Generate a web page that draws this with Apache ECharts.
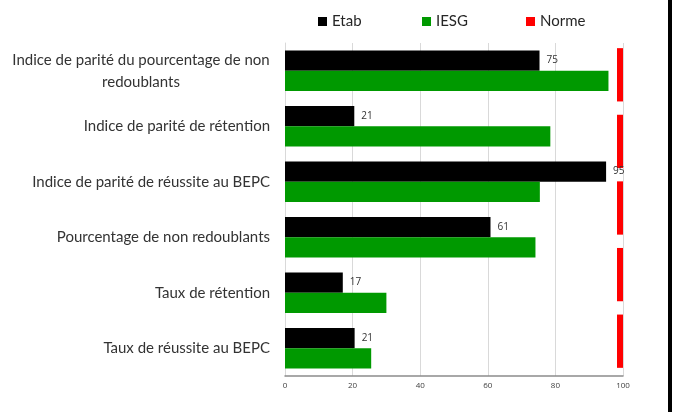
<!DOCTYPE html>
<html>
<head>
<meta charset="utf-8">
<script src="https://cdn.jsdelivr.net/npm/echarts@6/dist/echarts.min.js"></script>
<style>
  html, body { margin: 0; padding: 0; background: #fff; }
  #chart { width: 677px; height: 412px; }
</style>
</head>
<body>
<div id="chart"></div>
<script>
const categories = [
  "Indice de parité du pourcentage de non\nredoublants",
  "Indice de parité de rétention",
  "Indice de parité de réussite au BEPC",
  "Pourcentage de non redoublants",
  "Taux de rétention",
  "Taux de réussite au BEPC",
];
const etabValues = [75.3, 20.5, 95, 60.8, 17.1, 20.6];
const iesgValues = [95.7, 78.5, 75.4, 74.1, 30, 25.5];
// Norme sits on its own 5-slot axis, like the secondary axis in the source
const normeSlots = ["1", "2", "3", "4", "5"];
const normeValues = [100, 100, 100, 100, 100];
const xTicks = [0, 20, 40, 60, 80, 100];
const seriesNames = ["Etab", "IESG", "Norme"];

const labelFont = "Lato";
const labelSize = 15;

// width of the first line of wrapped labels, so the second line centres under it
function textWidth(text) {
  const ctx = document.createElement("canvas").getContext("2d");
  ctx.font = `${labelSize}px ${labelFont}`;
  return Math.ceil(ctx.measureText(text).width);
}

// one legend per item so they sit on an even spacing like the source
const legends = seriesNames.map((name, i) => ({
  left: 313 + i * 104,
  top: 9,
  itemWidth: 9,
  itemHeight: 9,
  textStyle: { fontSize: 15, color: "#262626" },
  data: [{ name, icon: "rect" }],
}));

const chart = echarts.init(document.querySelector("#chart"));

chart.setOption({
  animation: false,
  textStyle: { fontFamily: labelFont },
  legend: legends,
  grid: { left: 285, right: 54, top: 43, bottom: 36 },
  xAxis: [
    {
      type: "value",
      min: xTicks[0],
      max: xTicks[xTicks.length - 1],
      interval: 20,
      axisLine: { show: true, lineStyle: { color: "#8c8c8c", width: 1.5 } },
      axisTick: { show: false },
      axisLabel: { fontSize: 8, color: "#404040", margin: 6, fontFamily: "Open Sans" },
      splitLine: { lineStyle: { color: "#d9d9d9", width: 1 } },
    },
  ],
  yAxis: [
    {
      type: "category",
      inverse: true,
      data: categories,
      axisLine: { lineStyle: { color: "#d9d9d9" } },
      axisTick: { length: 5, lineStyle: { color: "#d9d9d9" } },
      axisLabel: {
        margin: 15,
        color: "#333",
        fontSize: labelSize,
        lineHeight: 22,
        formatter: (value) => {
          if (!value.includes("\n")) return value;
          return value.split("\n").map((line) => `{c|${line}}`).join("\n");
        },
        rich: {
          c: {
            width: textWidth(categories[0].split("\n")[0]),
            align: "center",
            fontSize: labelSize,
            lineHeight: 22,
            color: "#333",
          },
        },
      },
    },
    {
      type: "category",
      data: normeSlots,
      show: false,
    },
  ],
  series: [
    {
      name: seriesNames[0],
      type: "bar",
      data: etabValues,
      barGap: "0%",
      barCategoryGap: "27%",
      itemStyle: { color: "#000000" },
      label: {
        show: true,
        position: "right",
        distance: 7,
        fontSize: 10,
        color: "#333",
        fontFamily: "Open Sans",
        formatter: (p) => Math.round(p.value),
      },
    },
    {
      name: seriesNames[1],
      type: "bar",
      data: iesgValues,
      barGap: "0%",
      barCategoryGap: "27%",
      itemStyle: { color: "#009900" },
    },
    {
      name: seriesNames[2],
      type: "custom",
      xAxisIndex: 0,
      yAxisIndex: 1,
      itemStyle: { color: "#ff0000" },
      data: normeValues.map((v, i) => [v, i]),
      encode: { x: 0, y: 1 },
      renderItem: (params, api) => {
        const end = api.coord([api.value(0), api.value(1)]);
        const band = api.size([0, 1])[1];
        const h = band * 0.8;
        return {
          type: "rect",
          shape: { x: end[0] - 6, y: end[1] - h / 2 - 1.5, width: 6, height: h },
          style: { fill: "#ff0000" },
        };
      },
      z: 1,
    },
  ],
  graphic: [
    {
      type: "rect",
      left: 668,
      top: 0,
      z: 100,
      shape: { width: 4, height: 412 },
      style: { fill: "#000000" },
    },
  ],
});
</script>
</body>
</html>
